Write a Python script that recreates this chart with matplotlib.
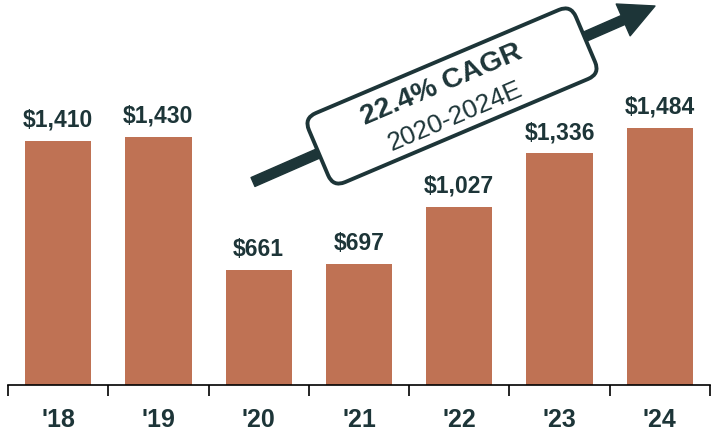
import matplotlib.pyplot as plt
from matplotlib.patches import FancyBboxPatch
from matplotlib.transforms import Affine2D, IdentityTransform

# chart data
years = ["'18", "'19", "'20", "'21", "'22", "'23", "'24"]
revenue = [1410, 1430, 661, 697, 1027, 1336, 1484]

BAR = '#BF7254'
DARK = '#1D3538'

plt.rcParams['font.family'] = ['Liberation Sans', 'DejaVu Sans']

fig = plt.figure(figsize=(7.11, 4.31), dpi=100)
ax = fig.add_axes([8 / 711, 45 / 431, 702 / 711, 386 / 431])

x = range(len(years))
ax.bar(x, revenue, width=0.66, color=BAR, zorder=2)
for i, v in zip(x, revenue):
    ax.annotate('${:,}'.format(v), (i, v), xytext=(0, 11), textcoords='offset points',
                ha='center', va='baseline', fontsize=16.5, fontweight='bold', color=DARK)

ax.set_xlim(-0.5, len(years) - 0.5)
ax.set_ylim(0, 2227)
ax.set_xticks([i + 0.5 for i in range(-1, len(years))], minor=False)
ax.set_xticklabels([])
ax.set_xticks(list(x), minor=True)
ax.set_xticklabels(years, minor=True)
ax.tick_params(axis='x', which='major', length=8, width=1.2, color='black', direction='out')
ax.tick_params(axis='x', which='minor', length=0, pad=16, labelsize=18, labelcolor=DARK)
for lbl in ax.get_xticklabels(minor=True):
    lbl.set_fontweight('bold')
ax.set_yticks([])
for side in ['top', 'right', 'left']:
    ax.spines[side].set_visible(False)
ax.spines['bottom'].set_linewidth(1.2)

# growth arrow with the CAGR box (positions in pixels, y up)
ax.annotate('', xy=(655, 424), xytext=(253, 248), xycoords='figure pixels',
            arrowprops=dict(width=7, headwidth=25, headlength=25, shrink=0, color=DARK))

ang = 23
cx, cy = 452, 334
bw, bh = 290, 75
box = FancyBboxPatch((cx - bw / 2, cy - bh / 2), bw, bh, boxstyle='round,pad=0,rounding_size=13',
                     facecolor='white', edgecolor=DARK, linewidth=2.8,
                     transform=Affine2D().rotate_deg_around(cx, cy, ang) + IdentityTransform())
fig.add_artist(box)
fig.text(442 / 711, 346 / 431, '22.4% CAGR', rotation=ang, rotation_mode='anchor',
         ha='center', va='center', fontsize=20.5, fontweight='bold', color=DARK)
fig.text(455 / 711, 315 / 431, '2020-2024E', rotation=ang, rotation_mode='anchor',
         ha='center', va='center', fontsize=19, color=DARK)

fig.savefig('out.png', dpi=100)
